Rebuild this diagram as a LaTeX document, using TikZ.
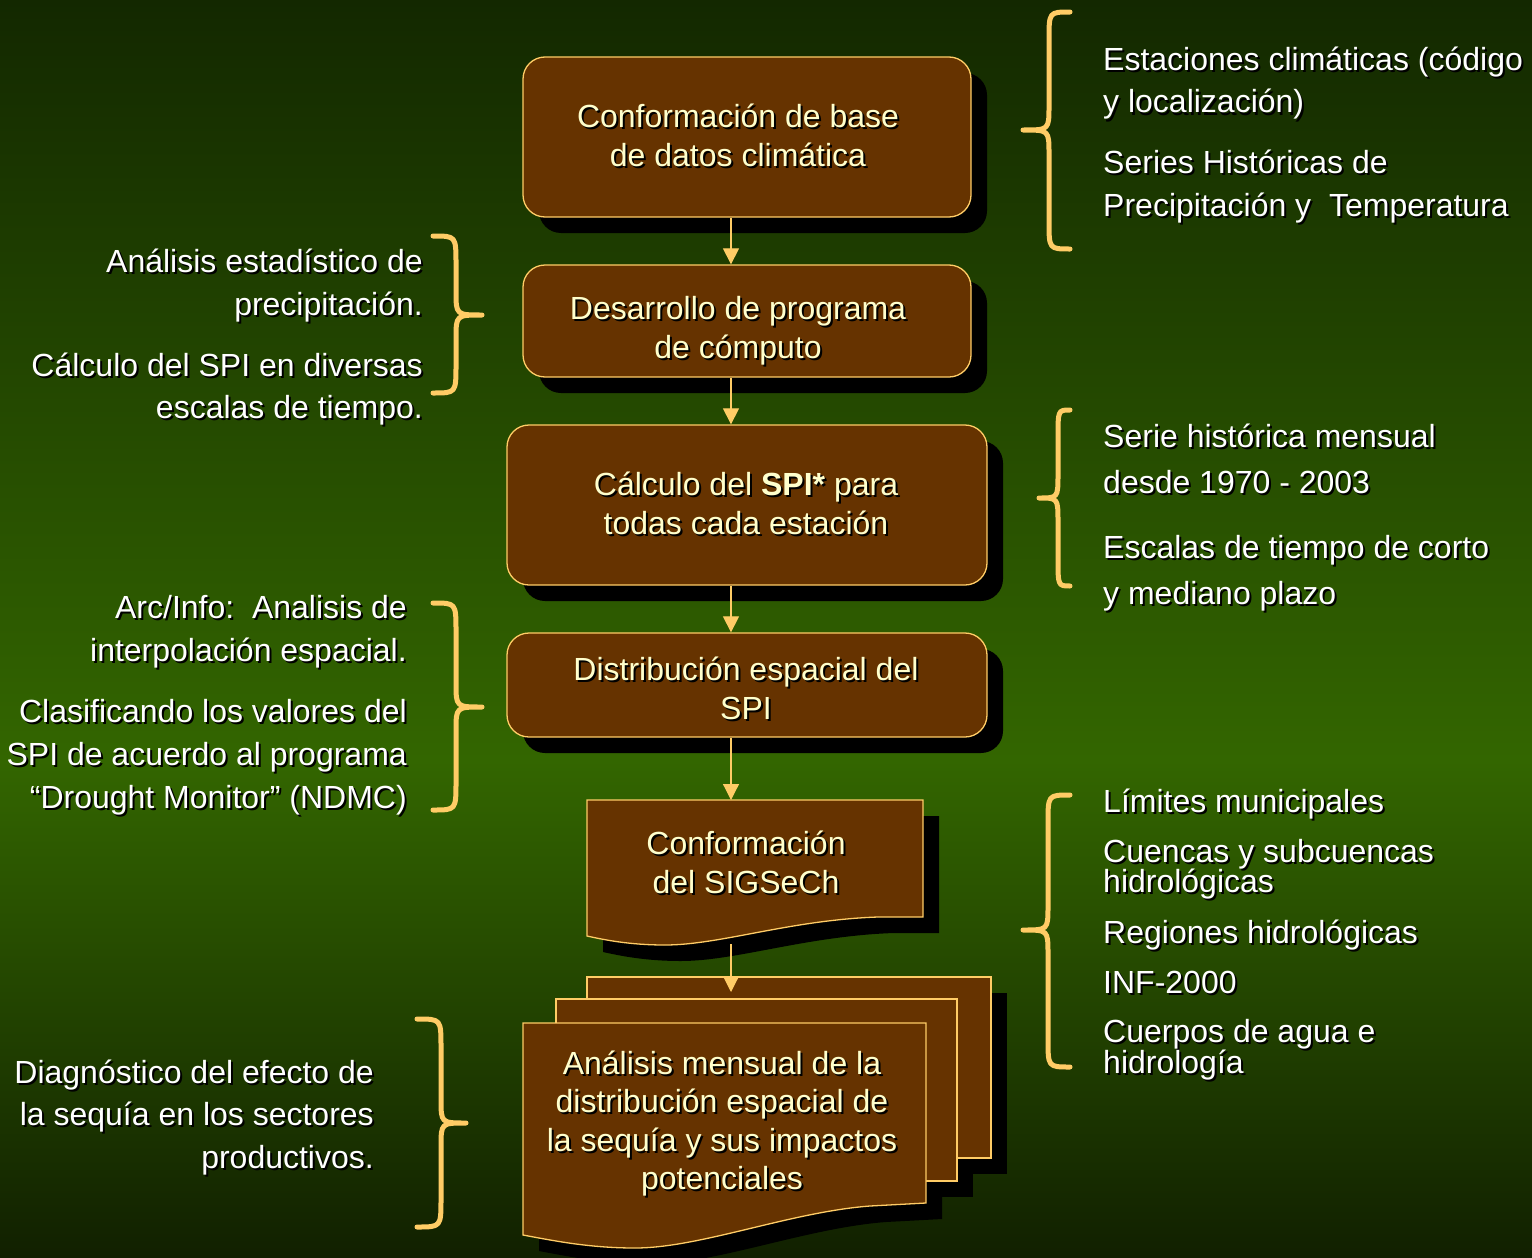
\documentclass[tikz,border=0pt]{standalone}
\usepackage{fontspec}
\setmainfont{Liberation Sans}
\usetikzlibrary{arrows.meta,shadows}
\definecolor{bgtop}{HTML}{132800}
\definecolor{bgmid}{HTML}{336600}
\definecolor{bgbot}{HTML}{112000}
\definecolor{boxfill}{HTML}{663300}
\definecolor{edge}{HTML}{FFCC66}
\definecolor{cream}{HTML}{FFFFCC}
\newcommand\sh[1]{\leavevmode\rlap{\kern2pt\raisebox{-2pt}{\textcolor{black}{#1}}}#1}
\newcommand\Lblock[2]{\vtop{\baselineskip=#1\relax\lineskiplimit=-1000pt\relax\let\\\cr\halign{##\hfil\cr#2\crcr}}}
\newcommand\Rblock[2]{\vtop{\baselineskip=#1\relax\lineskiplimit=-1000pt\relax\let\\\cr\halign{\hfil##\cr#2\crcr}}}
\newcommand\Cblock[2]{\vtop{\baselineskip=#1\relax\lineskiplimit=-1000pt\relax\let\\\cr\halign{\hfil##\hfil\cr#2\crcr}}}
\newcommand\drawbrace[6]{%
 \pgfmathsetmacro\ba{#4+28}\pgfmathsetmacro\bb{#5-24}\pgfmathsetmacro\bc{#5+24}\pgfmathsetmacro\bd{#6-28}%
 \draw[bracestyle] (#1,#4) .. controls (#2,#4) .. (#2,\ba) -- (#2,\bb) .. controls (#2,#5) .. (#3,#5) .. controls (#2,#5) .. (#2,\bc) -- (#2,\bd) .. controls (#2,#6) .. (#1,#6);}
\newcommand\docA{(587,800) -- (923,800) -- (923,917) -- (878,917) .. controls (790,920) and (720,945) .. (665,945) .. controls (630,945) and (605,940) .. (587,936) -- cycle}
\newcommand\docB{(523,1023) -- (926,1023) -- (926,1203) -- (870,1206) .. controls (790,1212) and (700,1248) .. (635,1248) .. controls (590,1248) and (555,1241) .. (523,1235) -- cycle}
\begin{document}
\begin{tikzpicture}[x=1pt,y=-1pt,
 box/.style={draw=edge, line width=1.3pt, fill=boxfill, rounded corners=22pt, inner sep=0pt,
   general shadow={fill=black, shadow xshift=16pt, shadow yshift=-16pt}},
 sheet/.style={draw=edge, line width=1.3pt, fill=boxfill},
 boxtxt/.style={inner sep=0pt, text=cream, font=\fontsize{32}{39}\selectfont},
 sidetxt/.style={inner sep=0pt, text=white, font=\fontsize{32}{43}\selectfont},
 arr/.style={draw=edge, line width=1.2pt, -{Triangle[width=16pt,length=16pt]}},
 bracestyle/.style={draw=edge, line width=5pt, line cap=round, line join=round}]
\useasboundingbox (0,0) rectangle (1532,1258);
\shade[top color=bgtop, bottom color=bgmid] (0,0) rectangle (1532,761);
\shade[top color=bgmid, bottom color=bgbot] (0,760) rectangle (1532,1258);

% process boxes
\node[box, minimum width=448pt, minimum height=160pt] (b1) at (747,137) {};
\node[box, minimum width=448pt, minimum height=112pt] (b2) at (747,321) {};
\node[box, minimum width=480pt, minimum height=160pt] (b3) at (747,505) {};
\node[box, minimum width=480pt, minimum height=104pt] (b4) at (747,685) {};

% document shapes: shadows then sheets
\begin{scope}[shift={(16,16)}]
 \fill[black] \docA;
 \fill[black] (587,977) rectangle (991,1158);
 \fill[black] (556,999) rectangle (957,1181);
 \fill[black] \docB;
\end{scope}
\draw[sheet] \docA;
\draw[sheet] (587,977) rectangle (991,1158);
\draw[sheet] (556,999) rectangle (957,1181);
\draw[sheet] \docB;

\coordinate (ax) at (731,0);
\coordinate (d1top) at (731,800);
\coordinate (d1bot) at (731,944);
\coordinate (d2in) at (731,992);

% box texts
\node[boxtxt, anchor=base] (t1) at (738,127) {\Cblock{39pt}{\sh{Conformación de base}\\\sh{de datos climática}}};
\node[boxtxt, anchor=base] (t2) at (738,319) {\Cblock{39pt}{\sh{Desarrollo de programa}\\\sh{de cómputo}}};
\node[boxtxt, anchor=base] (t3) at (746,495) {\Cblock{39pt}{\sh{Cálculo del \textbf{SPI*} para}\\\sh{todas cada estación}}};
\node[boxtxt, anchor=base] (t4) at (746,680) {\Cblock{39pt}{\sh{Distribución espacial del}\\\sh{SPI}}};
\node[boxtxt, anchor=base] (t5) at (746,854) {\Cblock{39pt}{\sh{Conformación}\\\sh{del SIGSeCh}}};
\node[boxtxt, anchor=base] (t6) at (722,1074) {\Cblock{38.5pt}{\sh{Análisis mensual de la}\\\sh{distribución espacial de}\\\sh{la sequía y sus impactos}\\\sh{potenciales}}};

% arrows
\draw[arr] (b1.south -| ax) -- (b2.north -| ax);
\draw[arr] (b2.south -| ax) -- (b3.north -| ax);
\draw[arr] (b3.south -| ax) -- (b4.north -| ax);
\draw[arr] (b4.south -| ax) -- (d1top);
\draw[arr] (d1bot) -- (d2in);

% braces
\drawbrace{1070}{1049}{1023}{12}{130}{249}
\drawbrace{433}{456}{482}{236}{315}{393}
\drawbrace{1070}{1058}{1039}{410}{498}{586}
\drawbrace{433}{456}{482}{603}{707}{810}
\drawbrace{1070}{1048}{1023}{795}{930}{1067}
\drawbrace{417}{441}{466}{1019}{1123}{1227}

% right texts
\node[sidetxt, anchor=base west] (r1) at (1103,70) {\Lblock{43pt}{\sh{Estaciones climáticas (código}\\\sh{y localización)}}};
\node[sidetxt, anchor=base west] (r2) at (1103,173) {\Lblock{43pt}{\sh{Series Históricas de}\\\sh{Precipitación y\ \ Temperatura}}};
\node[sidetxt, anchor=base west] (r3) at (1103,447) {\Lblock{46pt}{\sh{Serie histórica mensual}\\\sh{desde 1970 - 2003}}};
\node[sidetxt, anchor=base west] (r4) at (1103,558) {\Lblock{46pt}{\sh{Escalas de tiempo de corto}\\\sh{y mediano plazo}}};
\node[sidetxt, anchor=base west] (r5) at (1103,812) {\sh{Límites municipales}};
\node[sidetxt, anchor=base west] (r6) at (1103,862) {\Lblock{30pt}{\sh{Cuencas y subcuencas}\\\sh{hidrológicas}}};
\node[sidetxt, anchor=base west] (r7) at (1103,943) {\sh{Regiones hidrológicas}};
\node[sidetxt, anchor=base west] (r8) at (1103,993) {\sh{INF-2000}};
\node[sidetxt, anchor=base west] (r9) at (1103,1042) {\Lblock{31pt}{\sh{Cuerpos de agua e}\\\sh{hidrología}}};

% left texts
\node[sidetxt, anchor=base east] (l1) at (423,272) {\Rblock{43pt}{\sh{Análisis estadístico de}\\\sh{precipitación.}}};
\node[sidetxt, anchor=base east] (l2) at (423,376) {\Rblock{42pt}{\sh{Cálculo del SPI en diversas}\\\sh{escalas de tiempo.}}};
\node[sidetxt, anchor=base east] (l3) at (407,618) {\Rblock{43pt}{\sh{Arc/Info:\ \ Analisis de}\\\sh{interpolación espacial.}}};
\node[sidetxt, anchor=base east] (l4) at (407,722) {\Rblock{43pt}{\sh{Clasificando los valores del}\\\sh{SPI de acuerdo al programa}\\\sh{“Drought Monitor” (NDMC)}}};
\node[sidetxt, anchor=base east] (l5) at (374,1083) {\Rblock{42.5pt}{\sh{Diagnóstico del efecto de}\\\sh{la sequía en los sectores}\\\sh{productivos.}}};
\end{tikzpicture}
\end{document}
